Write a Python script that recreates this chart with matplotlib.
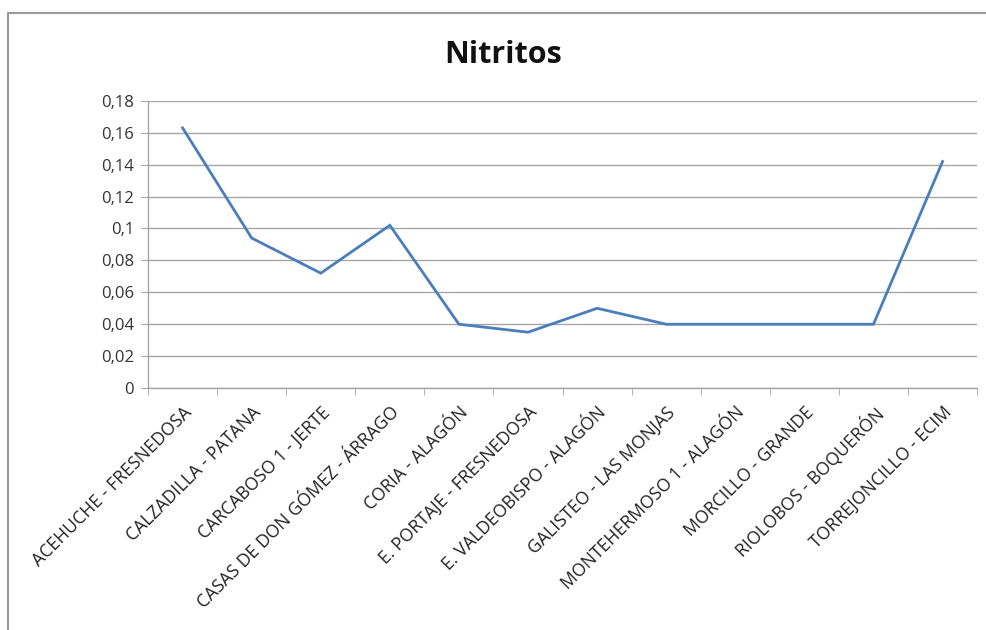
import numpy as np
import matplotlib as mpl
import matplotlib.pyplot as plt
from matplotlib.patches import Rectangle

mpl.rcParams['font.family'] = ['Open Sans', 'DejaVu Sans']

# Nitrite values per sampling station
stations = ['ACEHUCHE - FRESNEDOSA', 'CALZADILLA - PATANA', 'CARCABOSO 1 - JERTE',
            'CASAS DE DON GÓMEZ - ÁRRAGO', 'CORIA - ALAGÓN', 'E. PORTAJE - FRESNEDOSA',
            'E. VALDEOBISPO - ALAGÓN', 'GALISTEO - LAS MONJAS', 'MONTEHERMOSO 1 - ALAGÓN',
            'MORCILLO - GRANDE', 'RIOLOBOS - BOQUERÓN', 'TORREJONCILLO - ECIM']
nitritos = [0.163, 0.094, 0.072, 0.102, 0.040, 0.035, 0.050, 0.040, 0.040, 0.040, 0.040, 0.142]

yticks = [0, 0.02, 0.04, 0.06, 0.08, 0.1, 0.12, 0.14, 0.16, 0.18]
ytick_labels = ['0', '0,02', '0,04', '0,06', '0,08', '0,1', '0,12', '0,14', '0,16', '0,18']

fig = plt.figure(figsize=(9.87, 6.3), dpi=100)
ax = fig.add_axes([0.150, 0.384, 0.840, 0.456])

x = np.arange(len(stations))
ax.plot(x, nitritos, color='#4a7ebb', lw=2.0, solid_joinstyle='miter')

ax.set_xlim(-0.5, len(stations) - 0.5)
ax.set_ylim(0, 0.18)

# horizontal gridlines
ax.set_yticks(yticks)
ax.set_yticklabels(ytick_labels, fontsize=12, color='#333333')
ax.yaxis.grid(True, color='#a6a6a6', lw=1.0)
ax.set_axisbelow(True)

# category labels at centres, tick marks between categories
ax.set_xticks(x)
ax.set_xticklabels(stations, rotation=45, ha='right', rotation_mode='anchor',
                   fontsize=12.7, color='#222222')
ax.tick_params(axis='x', which='major', length=0, pad=11)
ax.set_xticks(np.arange(-0.5, len(stations)), minor=True)
ax.tick_params(axis='x', which='minor', length=5, color='#a6a6a6', direction='out')
ax.tick_params(axis='y', length=5, color='#a6a6a6', direction='out', pad=5)

for side in ['top', 'right']:
    ax.spines[side].set_visible(False)
for side in ['left', 'bottom']:
    ax.spines[side].set_color('#a6a6a6')
    ax.spines[side].set_linewidth(1.0)

fig.text(0.510, 0.912, 'Nitritos', ha='center', va='center',
         fontsize=22, fontweight='bold', color='#111111')

# chart frame
fig.patches.append(Rectangle((8 / 987, -0.05), 1.1, 1 - 13 / 630 + 0.05,
                             transform=fig.transFigure, fill=False,
                             edgecolor='#9a9a9a', lw=1.5))

fig.savefig('out.png', dpi=100)
